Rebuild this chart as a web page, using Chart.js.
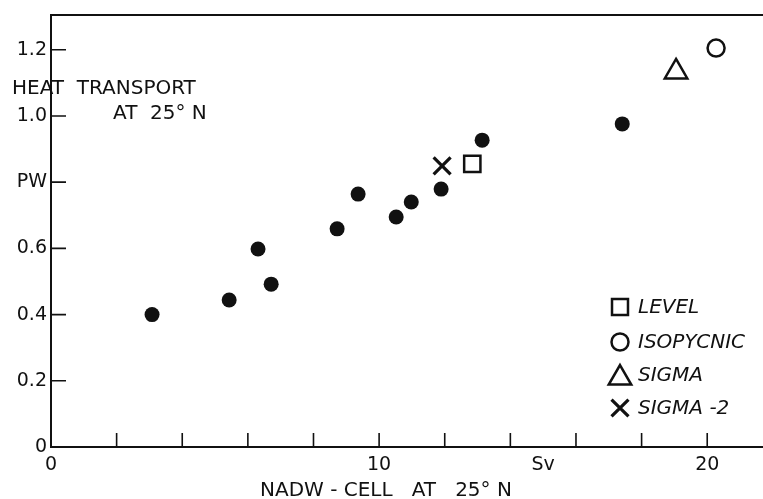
<!DOCTYPE html>
<html>
<head>
<meta charset="utf-8">
<script src="https://cdn.jsdelivr.net/npm/chart.js@4.4.1/dist/chart.umd.min.js"></script>
<style>
  html, body { margin: 0; padding: 0; background: #fff; }
  #wrap { width: 763px; height: 499px; }
</style>
</head>
<body>
<div id="wrap"><canvas id="heat-chart" width="763" height="499"></canvas></div>
<script>
// model runs (filled dots): NADW cell strength (Sv) vs heat transport (PW)
const runX = [3.08, 5.43, 6.31, 6.71, 8.72, 9.36, 10.52, 10.98, 11.89, 13.14, 17.41];
const runY = [0.40, 0.444, 0.598, 0.492, 0.659, 0.764, 0.695, 0.740, 0.779, 0.927, 0.976];

// special experiments, one point each
const levelX = [12.84];
const levelY = [0.855];
const isoX = [20.27];
const isoY = [1.205];
const sigmaX = [19.05];
const sigmaY = [1.133];
const sigma2X = [11.92];
const sigma2Y = [0.849];

const legendNames = ["LEVEL", "ISOPYCNIC", "SIGMA", "SIGMA -2"];

const xMarkTicks = [2, 4, 6, 8, 10, 12, 14, 16, 18, 20];
const xLabelValues = [0, 10, 15, 20];
const xLabelTexts = ["0", "10", "Sv", "20"];
const yMarkTicks = [0.2, 0.4, 0.6, 0.8, 1.0, 1.2];
const yLabelValues = [0, 0.2, 0.4, 0.6, 0.8, 1.0, 1.2];
const yLabelTexts = ["0", "0.2", "0.4", "0.6", "PW", "1.0", "1.2"];

const FONT = "'DejaVu Sans', sans-serif";

function pairs(xs, ys) {
    return xs.map((x, i) => ({ x: x, y: ys[i] }));
}

function markerDataset(label, xs, ys, style, radius, width) {
    return {
        label: label,
        data: pairs(xs, ys),
        pointStyle: style,
        pointRadius: radius,
        pointHoverRadius: radius,
        pointBorderWidth: width,
        pointBorderColor: "#111",
        pointBackgroundColor: "rgba(0,0,0,0)",
        showLine: false
    };
}

const paperPlugin = {
    id: "paper",
    afterDraw(chart) {
        const ctx = chart.ctx;
        const xs = chart.scales.x;
        const ys = chart.scales.y;
        const area = chart.chartArea;
        ctx.save();
        ctx.strokeStyle = "#111";
        ctx.lineWidth = 2;

        // top frame line
        ctx.beginPath();
        ctx.moveTo(area.left, area.top);
        ctx.lineTo(area.right, area.top);
        ctx.stroke();

        // inward tick marks
        ctx.lineWidth = 1.6;
        ctx.beginPath();
        xMarkTicks.forEach(v => {
            const px = xs.getPixelForValue(v);
            ctx.moveTo(px, area.bottom);
            ctx.lineTo(px, area.bottom - 14);
        });
        yMarkTicks.forEach(v => {
            const py = ys.getPixelForValue(v);
            ctx.moveTo(area.left, py);
            ctx.lineTo(area.left + 15, py);
        });
        ctx.stroke();

        // titles
        ctx.fillStyle = "#111";
        ctx.textBaseline = "alphabetic";
        ctx.textAlign = "left";
        ctx.font = "20px " + FONT;
        ctx.fillText("HEAT  TRANSPORT", 12, 94);
        ctx.fillText("AT  25\u00b0 N", 113, 119);
        ctx.fillText("NADW - CELL   AT   25\u00b0 N", 260, 496);

        // legend
        const lx = 620;
        const rows = [307, 342, 375, 408];
        const sets = chart.data.datasets.slice(1);
        ctx.font = "italic 20px " + FONT;
        ctx.textBaseline = "middle";
        sets.forEach((ds, i) => {
            const y = rows[i];
            ctx.fillStyle = "rgba(0,0,0,0)";
            ctx.strokeStyle = "#111";
            ctx.lineWidth = ds.pointBorderWidth;
            const r = ds.pointStyle === "rect" ? 11.3 : ds.pointRadius;
            Chart.helpers.drawPoint(ctx, {
                pointStyle: ds.pointStyle,
                radius: r,
                rotation: 0,
                borderWidth: ds.pointBorderWidth
            }, lx, ds.pointStyle === "triangle" ? y + 3 : y);
            ctx.fillStyle = "#111";
            ctx.fillText(legendNames[i], 638, y + 1);
        });
        ctx.restore();
    }
};

let heatChart;

function initChart() {
    const ctx = document.getElementById("heat-chart").getContext("2d");

    heatChart = new Chart(ctx, {
        type: "scatter",
        data: {
            datasets: [
                {
                    label: "runs",
                    data: pairs(runX, runY),
                    pointStyle: "circle",
                    pointRadius: 7.5,
                    pointHoverRadius: 7.5,
                    pointBorderWidth: 0,
                    pointBackgroundColor: "#111"
                },
                markerDataset(legendNames[0], levelX, levelY, "rect", 11.5, 2.5),
                markerDataset(legendNames[1], isoX, isoY, "circle", 8.5, 2.5),
                markerDataset(legendNames[2], sigmaX, sigmaY, "triangle", 13, 2.5),
                markerDataset(legendNames[3], sigma2X, sigma2Y, "crossRot", 12, 3.2)
            ]
        },
        options: {
            responsive: false,
            animation: false,
            layout: {
                autoPadding: false,
                padding: { top: 15, left: 0, right: 0, bottom: 0 }
            },
            plugins: {
                legend: { display: false },
                tooltip: { enabled: false }
            },
            scales: {
                x: {
                    type: "linear",
                    min: 0,
                    max: 21.7,
                    grid: { display: false, drawTicks: false },
                    border: { display: true, color: "#111", width: 2 },
                    afterBuildTicks: scale => {
                        scale.ticks = xLabelValues.map(v => ({ value: v }));
                    },
                    afterFit: scale => {
                        scale.height = 52;
                        scale.paddingLeft = 0;
                        scale.paddingRight = 0;
                    },
                    ticks: {
                        autoSkip: false,
                        maxRotation: 0,
                        padding: 7,
                        color: "#111",
                        font: { family: FONT, size: 19 },
                        callback: v => {
                            const i = xLabelValues.indexOf(v);
                            return i >= 0 ? xLabelTexts[i] : "";
                        }
                    }
                },
                y: {
                    type: "linear",
                    min: 0,
                    max: 1.305,
                    grid: { display: false, drawTicks: false },
                    border: { display: true, color: "#111", width: 2 },
                    afterBuildTicks: scale => {
                        scale.ticks = yLabelValues.map(v => ({ value: v }));
                    },
                    afterFit: scale => {
                        scale.width = 51;
                        scale.paddingTop = 0;
                        scale.paddingBottom = 0;
                    },
                    ticks: {
                        autoSkip: false,
                        padding: 4,
                        color: "#111",
                        font: { family: FONT, size: 19 },
                        callback: v => {
                            const i = yLabelValues.findIndex(t => Math.abs(t - v) < 1e-6);
                            return i >= 0 ? yLabelTexts[i] : "";
                        }
                    }
                }
            }
        },
        plugins: [paperPlugin]
    });
}

initChart();
</script>
</body>
</html>
